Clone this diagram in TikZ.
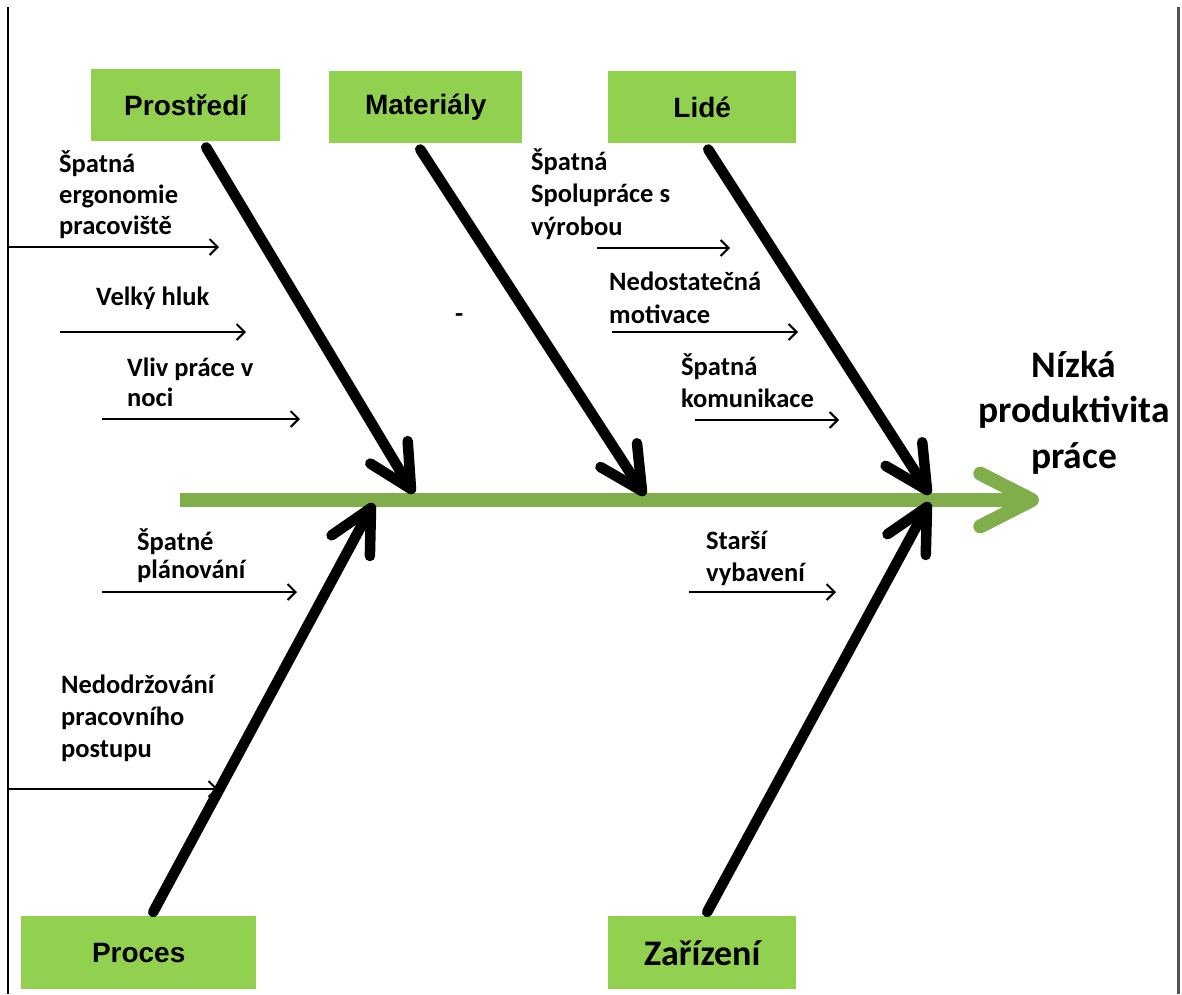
\documentclass[tikz,border=0pt]{standalone}
\usepackage{fontspec}
\setmainfont{Carlito}
\newfontfamily\arialfont{Liberation Sans}
\usetikzlibrary{arrows.meta,calc}
\definecolor{boxgreen}{HTML}{92D050}
\definecolor{spinegreen}{HTML}{7FAE4B}
\definecolor{framegray}{HTML}{555555}
\begin{document}
\begin{tikzpicture}[x=1pt,y=-1pt,
  catbox/.style={fill=boxgreen, draw=none, inner sep=0pt, anchor=north west,
    font=\arialfont\bfseries\fontsize{28}{32}\selectfont},
  bone/.style={line width=10.5pt, black, line cap=round, line join=round},
  spine/.style={line width=14pt, spinegreen},
  spinehead/.style={line width=14pt, spinegreen, line cap=round, line join=round},
  cause/.style={line width=2pt, black, -{Straight Barb[length=8pt,width=16pt,line width=2pt]}},
  lbl/.style={anchor=base west, align=left, inner sep=0pt, font=\bfseries\fontsize{26.5}{#1}\selectfont},
  lbl/.default=32,
  effect/.style={anchor=base, align=center, inner sep=0pt, font=\bfseries\fontsize{37.5}{45.5}\selectfont}
]
\useasboundingbox (0,0) rectangle (1182,994);

% frame lines
\coordinate (fl0) at (8,7); \coordinate (fl1) at (8,994);
\coordinate (fr0) at (1178,7); \coordinate (fr1) at (1178,994);
\draw[line width=2pt] (fl0) -- (fl1);
\draw[line width=3pt, framegray] (fr0) -- (fr1);

% category boxes
\node[catbox, minimum width=189pt, minimum height=72pt] (P) at (91,69) {Prostředí};
\node[catbox, minimum width=193pt, minimum height=72pt] (M) at (329,71) {Materiály};
\node[catbox, minimum width=188pt, minimum height=72pt] (L) at (608,71) {Lidé};
\node[catbox, minimum width=235pt, minimum height=73pt] (R) at (21,916) {Proces};
\node[catbox, minimum width=188pt, minimum height=73pt, font=\bfseries\fontsize{36}{40}\selectfont] (Z) at (608,916) {Zařízení};

% spine
\coordinate (s0) at (180,500);
\coordinate (s1) at (1032,500);
\draw[spine] (s0) -- (s1);
\draw[spinehead] ($(s1)!58pt!27:(s0)$) -- (s1) -- ($(s1)!58pt!-27:(s0)$);

% bones
\coordinate (bP) at ($(P.south)+(20.5,6)$);
\coordinate (tP) at (411,489);
\coordinate (bM) at ($(M.south)+(-5.5,6)$);
\coordinate (tM) at (642,491);
\coordinate (bL) at ($(L.south)+(6,6)$);
\coordinate (tL) at (927,490);
\coordinate (bR) at ($(R.north)+(14.5,-4)$);
\coordinate (tR) at (371,508);
\coordinate (bZ) at ($(Z.north)+(5,-4)$);
\coordinate (tZ) at (927,507);
\foreach \s/\t in {bP/tP, bM/tM, bL/tL, bR/tR, bZ/tZ}{
  \draw[bone] (\s) -- (\t);
  \draw[bone] ($(\t)!48pt!27:(\s)$) -- (\t) -- ($(\t)!48pt!-27:(\s)$);
}

% effect (anchored at the baseline of its last line)
\node[effect] (E) at (1074,468) {Nízká\\produktivita\\práce};

% cause labels (anchored at the baseline of their last line)
\node[lbl=31] (c1) at (59,234) {Špatná\\ergonomie\\pracoviště};
\node[lbl] (c2) at (96,305) {Velký hluk};
\node[lbl=30] (c3) at (127,406) {Vliv práce v\\noci};
\node[lbl=28] (c4) at (137,578) {Špatné\\plánování};
\node[lbl] (c5) at (61,757) {Nedodržování\\pracovního\\postupu};
\node[lbl=32.5] (c6) at (531,235) {Špatná\\Spolupráce s\\výrobou};
\node[lbl=33] (c7) at (609,323) {Nedostatečná\\motivace};
\node[lbl] (c8) at (681,407) {Špatná\\komunikace};
\node[lbl] (c9) at (706,581) {Starší\\vybavení};
\node[lbl] (dash) at (455,322) {-};

% cause arrows
\coordinate (a1s) at (8,247);   \coordinate (a1e) at (219,247);
\coordinate (a2s) at (60,332);  \coordinate (a2e) at (246,332);
\coordinate (a3s) at (102,419); \coordinate (a3e) at (300,419);
\coordinate (a4s) at (102,592); \coordinate (a4e) at (297,592);
\coordinate (a5s) at (8,789);   \coordinate (a5e) at (218,789);
\coordinate (a6s) at (597,248); \coordinate (a6e) at (730,248);
\coordinate (a7s) at (612,332); \coordinate (a7e) at (798,332);
\coordinate (a8s) at (695,420); \coordinate (a8e) at (839,420);
\coordinate (a9s) at (689,592); \coordinate (a9e) at (836,592);
\foreach \i in {1,...,9}{
  \draw[cause] (a\i s) -- (a\i e);
}
\end{tikzpicture}
\end{document}
